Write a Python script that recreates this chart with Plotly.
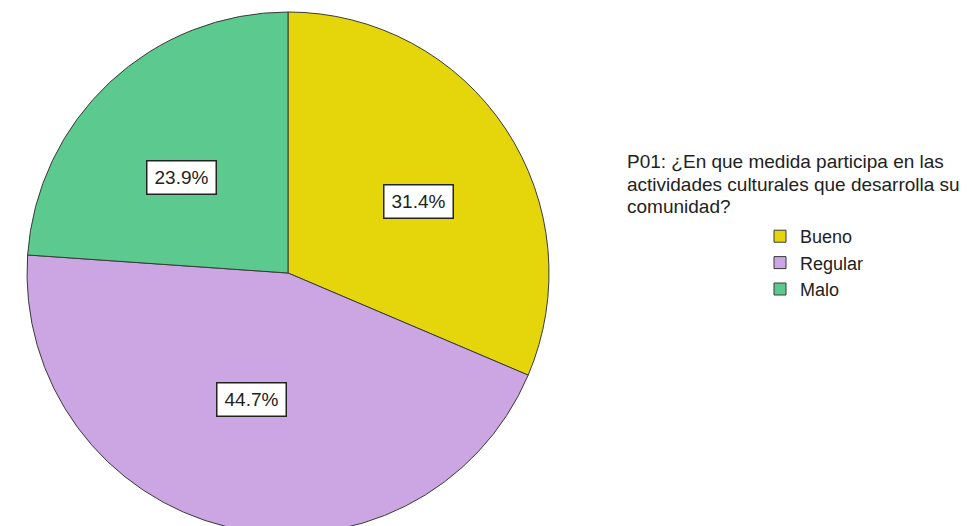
import math
import plotly.graph_objects as go

categories = ["Bueno", "Regular", "Malo"]
percentages = [31.4, 44.7, 23.9]
colors = ["#E4D60A", "#CCA6E3", "#5CC98E"]
legend_title_lines = [
    "P01: ¿En que medida participa en las",
    "actividades culturales que desarrolla su",
    "comunidad?",
]

W, H = 970, 526
OFF = 8  # page body margin
FONT = "Liberation Sans, Arial, sans-serif"

# pie geometry in page pixels
cx, cy, r = 288 - OFF, 273 - OFF, 261


def px_x(v):
    return v / W


def px_y(v):
    return 1 - v / H


fig = go.Figure()
fig.add_trace(go.Pie(
    labels=categories,
    values=percentages,
    sort=False,
    direction="clockwise",
    rotation=0,
    textinfo="none",
    hoverinfo="label+percent",
    marker=dict(colors=colors, line=dict(color="#3a3a3a", width=1)),
    domain=dict(x=[px_x(cx - r), px_x(cx + r)],
                y=[max(0, px_y(cy + r)), px_y(cy - r)]),
))

# percentage labels positioned from the slice mid-angles
total = sum(percentages)
cum = 0.0
annotations = []
for v in percentages:
    mid = (cum + v / 2) / total * 2 * math.pi
    cum += v
    lx = cx + 0.6 * r * math.sin(mid)
    ly = cy - 0.5 * r * math.cos(mid)
    annotations.append(dict(
        x=px_x(lx), y=px_y(ly), xref="paper", yref="paper",
        xanchor="center", yanchor="middle",
        text=f"{v:.1f}%", showarrow=False,
        font=dict(family=FONT, size=19, color="#222222"),
        bgcolor="white", bordercolor="#222222", borderwidth=1.5, borderpad=1,
        width=66, height=30, align="center", valign="middle",
    ))

title_y = [162, 184, 206]
for line, ty in zip(legend_title_lines, title_y):
    annotations.append(dict(
        x=px_x(625 - OFF), y=px_y(ty - OFF), xref="paper", yref="paper",
        xanchor="left", yanchor="middle", text=line, showarrow=False,
        font=dict(family=FONT, size=19, color="#222222"),
    ))

fig.update_layout(
    width=W, height=H,
    margin=dict(l=0, r=0, t=0, b=0),
    paper_bgcolor="white",
    plot_bgcolor="white",
    showlegend=True,
    legend=dict(
        x=px_x(760 - OFF), y=px_y(218 - OFF), xanchor="left", yanchor="top",
        font=dict(family=FONT, size=18, color="#222222"),
        bgcolor="rgba(0,0,0,0)", tracegroupgap=0,
    ),
    annotations=annotations,
)

fig.write_html("out.html")
